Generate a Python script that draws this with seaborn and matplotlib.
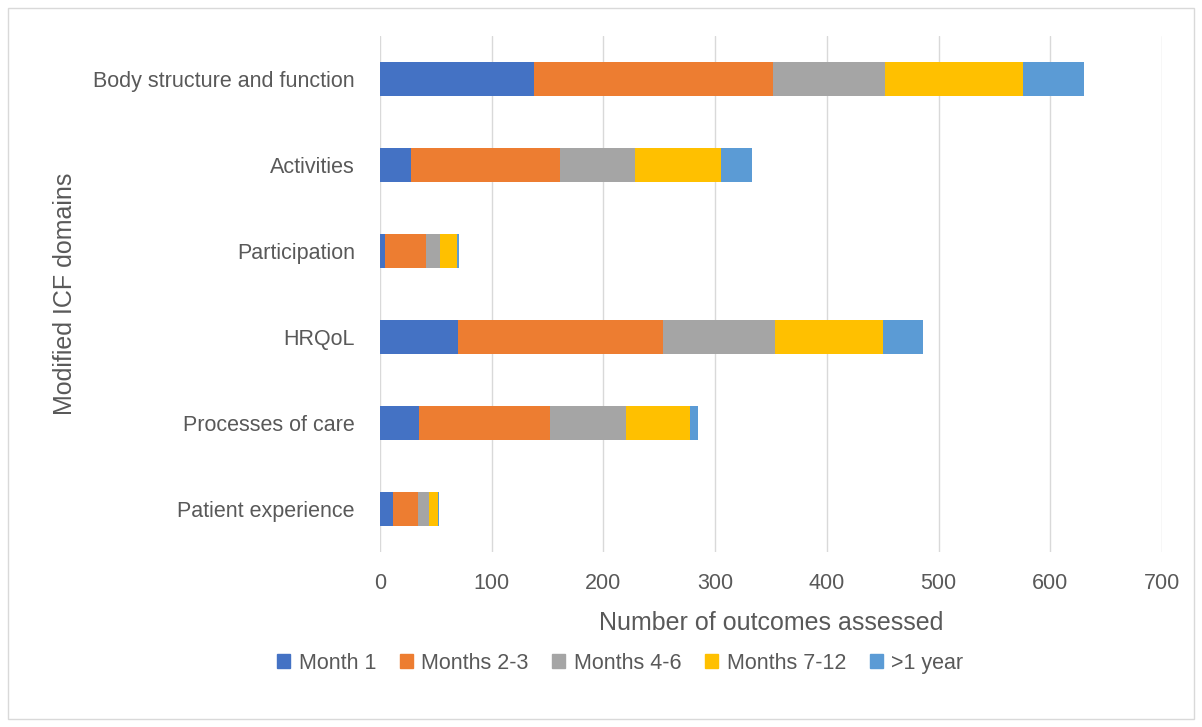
import pandas as pd
import matplotlib.pyplot as plt
import matplotlib.patches as mpatches
import seaborn as sns

# Data
domains = ['Body structure and function', 'Activities', 'Participation',
           'HRQoL', 'Processes of care', 'Patient experience']
periods = ['Month 1', 'Months 2-3', 'Months 4-6', 'Months 7-12', '>1 year']
month_1 = [138, 28, 5, 70, 35, 12]
months_2_3 = [214, 133, 36, 183, 117, 22]
months_4_6 = [100, 67, 13, 101, 68, 10]
months_7_12 = [124, 77, 15, 96, 58, 8]
over_1_year = [54, 28, 2, 36, 7, 1]
colors = ['#4472C4', '#ED7D31', '#A5A5A5', '#FFC000', '#5B9BD5']

df = pd.DataFrame({'domain': domains, 'Month 1': month_1, 'Months 2-3': months_2_3,
                   'Months 4-6': months_4_6, 'Months 7-12': months_7_12,
                   '>1 year': over_1_year})
cum = df[periods].cumsum(axis=1)
cum['domain'] = df['domain']

sns.set_style('white')
plt.rcParams['font.family'] = ['Liberation Sans', 'DejaVu Sans']
text_col = '#595959'

fig = plt.figure(figsize=(12.02, 7.27), dpi=100)
ax = fig.add_axes([0.316, 0.2407, 0.6507, 0.7098])

# stacked bars: draw cumulative totals from the outermost segment inwards
for period, col in reversed(list(zip(periods, colors))):
    sns.barplot(data=cum, x=period, y='domain', order=domains, color=col,
                width=0.4, saturation=1, linewidth=0, ax=ax, zorder=3)

ax.set_xlim(0, 700)
ax.set_xticks(range(0, 701, 100))
ax.grid(axis='x', color='#d9d9d9', linewidth=1, zorder=0)
ax.grid(axis='y', visible=False)
for s in ax.spines.values():
    s.set_visible(False)
ax.tick_params(axis='both', length=0, labelsize=15.5, labelcolor=text_col)
ax.tick_params(axis='x', pad=15)
ax.tick_params(axis='y', pad=18)
ax.set_xlabel('Number of outcomes assessed', fontsize=18, color=text_col, labelpad=12)
ax.set_ylabel('Modified ICF domains', fontsize=18, color=text_col, labelpad=12)

handles = [mpatches.Patch(color=c, label=p) for p, c in zip(periods, colors)]
fig.legend(handles=handles, loc='center', bbox_to_anchor=(0.516, 0.088), ncol=5,
           frameon=False, fontsize=15.5, handlelength=0.6, handleheight=0.6,
           handletextpad=0.4, columnspacing=1.1, labelcolor=text_col)

# chart border
fig.patches.append(mpatches.Rectangle((0.007, 0.011), 0.986, 0.978, transform=fig.transFigure,
                                      fill=False, edgecolor='#d9d9d9', linewidth=1))

fig.savefig('out.png', dpi=100)
